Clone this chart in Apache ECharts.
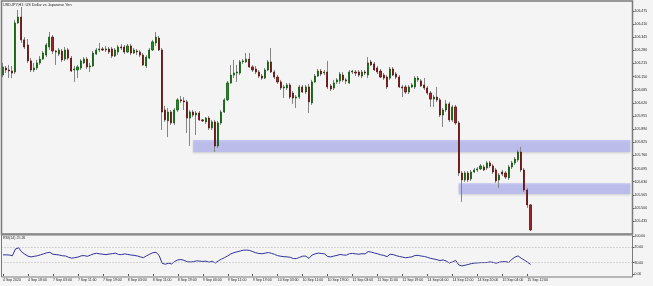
<!DOCTYPE html>
<html><head><meta charset="utf-8">
<script src="https://cdn.jsdelivr.net/npm/echarts@6/dist/echarts.min.js"></script>
<style>html,body{margin:0;padding:0;background:#f4f4f4;}#c{width:653px;height:286px;}</style>
</head><body><div id="c"></div>
<script>
const chartTitle = 'USDJPY,H1: US Dollar vs Japanese Yen';
const rsiTitle = 'RSI(14) 25.26';
const xTickLabels = ['4 Sep 2020','4 Sep 18:00','7 Sep 03:00','7 Sep 11:00','7 Sep 19:00','8 Sep 03:00','8 Sep 11:00','8 Sep 19:00','9 Sep 03:00','9 Sep 11:00','9 Sep 19:00','10 Sep 03:00','10 Sep 11:00','10 Sep 19:00','11 Sep 03:00','11 Sep 11:00','11 Sep 19:00','14 Sep 04:00','14 Sep 12:00','14 Sep 20:00','15 Sep 04:00','15 Sep 12:00'];
const priceTicks = [106.475,106.410,106.345,106.280,106.215,106.150,106.085,106.020,105.955,105.890,105.825,105.760,105.695,105.630,105.565,105.500,105.435];
const rsiTicks = [0, 30, 70, 100];
const rsiLevels = [70, 30];
// [open, close, low, high]
const candles = [
[106.158,106.198,106.148,106.218],[106.193,106.183,106.168,106.203],[106.183,106.178,106.143,106.208],[106.178,106.168,106.143,106.203],
[106.173,106.416,106.163,106.431],[106.416,106.445,106.411,106.480],[106.445,106.332,106.317,106.495],[106.332,106.297,106.287,106.346],
[106.307,106.228,106.218,106.336],[106.228,106.183,106.173,106.242],[106.183,106.193,106.173,106.218],[106.193,106.218,106.183,106.233],
[106.218,106.237,106.208,106.252],[106.237,106.267,106.233,106.277],[106.257,106.307,106.247,106.317],[106.297,106.346,106.282,106.371],
[106.346,106.277,106.262,106.356],[106.277,106.272,106.208,106.282],[106.262,106.282,106.252,106.292],[106.277,106.233,106.223,106.287],
[106.237,106.282,106.228,106.297],[106.282,106.242,106.233,106.292],[106.242,106.178,106.173,106.252],[106.183,106.188,106.124,106.203],
[106.183,106.198,106.143,106.208],[106.193,106.228,106.183,106.237],[106.218,106.237,106.213,106.247],[106.237,106.198,106.188,106.247],
[106.198,106.203,106.173,106.218],[106.203,106.267,106.198,106.277],[106.262,106.282,106.257,106.292],[106.282,106.287,106.272,106.317],
[106.287,106.282,106.277,106.297],[106.282,106.287,106.272,106.302],[106.287,106.272,106.262,106.297],[106.287,106.252,106.242,106.297],
[106.252,106.282,106.247,106.292],[106.272,106.297,106.257,106.307],[106.297,106.292,106.282,106.312],[106.297,106.272,106.262,106.307],
[106.272,106.302,106.267,106.312],[106.302,106.267,106.257,106.312],[106.267,106.282,106.262,106.292],[106.277,106.272,106.257,106.287],
[106.272,106.257,106.247,106.282],[106.257,106.208,106.203,106.267],[106.203,106.247,106.193,106.257],[106.242,106.282,106.237,106.292],
[106.282,106.322,106.277,106.332],[106.317,106.346,106.302,106.371],[106.341,106.282,106.277,106.351],[106.282,105.975,105.886,106.292],
[105.985,105.936,105.926,106.005],[105.931,105.975,105.851,105.995],[105.975,105.921,105.911,105.985],[105.921,105.985,105.911,105.995],
[105.985,106.035,105.975,106.044],[106.035,106.030,106.020,106.054],[106.030,106.025,105.985,106.049],[106.025,105.945,105.871,106.035],
[105.945,105.975,105.807,105.985],[105.975,105.960,105.950,105.985],[105.960,105.970,105.861,105.980],[105.970,105.936,105.931,105.980],
[105.936,105.931,105.926,105.940],[105.926,105.945,105.916,105.950],[105.945,105.896,105.886,105.955],[105.896,105.926,105.886,105.936],
[105.926,105.807,105.777,105.936],[105.807,105.921,105.797,105.931],[105.921,105.975,105.911,105.985],[105.975,106.035,105.970,106.044],
[106.035,106.119,106.030,106.129],[106.119,106.158,106.114,106.208],[106.158,106.168,106.143,106.233],[106.168,106.173,106.124,106.208],
[106.168,106.223,106.158,106.233],[106.223,106.228,106.213,106.237],[106.223,106.237,106.218,106.267],[106.237,106.198,106.193,106.267],
[106.198,106.183,106.173,106.208],[106.188,106.173,106.163,106.203],[106.173,106.153,106.143,106.183],[106.153,106.143,106.134,106.163],
[106.143,106.183,106.138,106.193],[106.183,106.223,106.178,106.233],[106.223,106.173,106.168,106.292],[106.173,106.148,106.138,106.183],
[106.148,106.124,106.114,106.158],[106.124,106.094,106.084,106.134],[106.094,106.099,106.044,106.109],[106.094,106.109,106.084,106.119],
[106.109,106.049,106.039,106.119],[106.069,106.044,106.015,106.079],[106.044,106.049,105.995,106.059],[106.049,106.099,106.039,106.109],
[106.099,106.074,106.069,106.109],[106.074,106.099,106.064,106.109],[106.099,106.025,105.970,106.114],[106.020,106.124,106.010,106.134],
[106.124,106.153,106.119,106.163],[106.153,106.178,106.148,106.188],[106.178,106.163,106.153,106.188],[106.168,106.173,106.158,106.183],
[106.173,106.099,106.089,106.228],[106.104,106.089,106.079,106.114],[106.094,106.119,106.084,106.134],[106.124,106.134,106.114,106.143],
[106.129,106.163,106.114,106.173],[106.158,106.134,106.124,106.173],[106.134,106.129,106.114,106.143],[106.119,106.173,106.114,106.183],
[106.173,106.178,106.163,106.183],[106.173,106.168,106.153,106.183],[106.173,106.158,106.148,106.183],[106.153,106.173,106.143,106.183],
[106.173,106.168,106.158,106.183],[106.158,106.218,106.143,106.247],[106.223,106.208,106.203,106.233],[106.213,106.183,106.178,106.223],
[106.193,106.173,106.163,106.203],[106.178,106.148,106.143,106.188],[106.158,106.143,106.134,106.168],[106.148,106.099,106.089,106.158],
[106.143,106.188,106.134,106.198],[106.188,106.158,106.153,106.198],[106.163,106.148,106.138,106.173],[106.148,106.099,106.094,106.158],
[106.099,106.094,106.049,106.109],[106.099,106.074,106.064,106.109],[106.074,106.099,106.064,106.109],[106.099,106.109,106.094,106.119],
[106.099,106.143,106.089,106.153],[106.134,106.143,106.124,106.153],[106.129,106.104,106.099,106.138],[106.109,106.094,106.084,106.143],
[106.094,106.069,106.059,106.104],[106.069,106.039,106.000,106.079],[106.039,106.049,106.000,106.059],[106.049,106.035,106.025,106.099],
[106.035,105.960,105.950,106.044],[105.960,105.985,105.901,105.995],[105.985,106.015,105.975,106.035],[106.015,105.936,105.926,106.025],
[105.936,106.000,105.926,106.010],[106.000,105.921,105.911,106.010],[105.921,105.673,105.658,105.931],[105.673,105.639,105.530,105.683],
[105.639,105.673,105.629,105.683],[105.673,105.639,105.629,105.683],[105.644,105.678,105.634,105.688],[105.678,105.688,105.673,105.698],
[105.688,105.693,105.678,105.703],[105.693,105.708,105.688,105.718],[105.703,105.688,105.683,105.713],[105.698,105.723,105.688,105.733],
[105.723,105.708,105.698,105.733],[105.708,105.678,105.668,105.718],[105.688,105.634,105.624,105.698],[105.639,105.663,105.599,105.673],
[105.678,105.668,105.658,105.688],[105.673,105.653,105.644,105.683],[105.649,105.703,105.639,105.713],[105.703,105.723,105.693,105.733],
[105.723,105.742,105.713,105.752],[105.738,105.777,105.728,105.787],[105.777,105.688,105.678,105.802],[105.688,105.589,105.579,105.698],
[105.589,105.515,105.500,105.599],[105.515,105.391,105.386,105.520]
];
const rsi = [
50.4,50.4,50,48,66,69,58,52,47,45,
46.5,48,50.4,53,55.7,57,52,51,50,48,
47.5,44,41.6,43,44.5,47.7,48.5,46.5,49.6,53,
54.5,53,52,51,52.5,53.5,55,51.5,51,53,
51.5,50,49,47.5,45,43,48,52,56,57,
49,28,25.7,28.4,26.5,33,37,38,36,32.3,
31.5,32.6,34.5,34,33,34,31,33.7,29,34.5,
39.3,43.2,47.7,53,56.2,58.4,60.5,62.6,63.1,62,
58.9,55.7,54.1,53.3,54.9,56.5,54.4,51.7,48.3,46.7,
45.6,45,44,40.6,40.6,43.8,47,47,41,50,
53,55,54,53,46,45,47.2,49,51.5,50,
49.6,53.5,54.1,53,52,53.4,53,59,57.5,55.2,
53.3,50.5,49,45.6,52,51,48.3,46,44.5,42.7,
44,45,48.8,49,47.2,46.1,43.8,41.1,39.5,37.7,
35.3,37.1,34,29,31.8,35.8,24,21.2,23,25,
27.3,28.6,29.2,30,30,30.2,31.8,30.5,28.4,31,
32.6,32.6,30.5,38.5,44.5,47.7,41.6,36.6,31,25.26
];
// support/resistance zones: bar index span and price band
const zoneFrom = [60.6, 146.4];
const zoneTo = [200.5, 201.5];
const zoneTop = [105.836, 105.622];
const zoneBottom = [105.777, 105.569];

const SLOTS = 202;
const cats = Array.from({length: SLOTS}, (_, i) => i);
const bodies = candles.map(d => [d[0], d[1], Math.min(d[0], d[1]), Math.max(d[0], d[1])]);
const FONT = 'Liberation Sans';
const GL = 1, GW = 631;

const chart = echarts.init(document.getElementById('c'), null, {renderer: 'canvas', devicePixelRatio: 1});
const tickShow = (idx) => idx % 8 === 0 && idx / 8 < xTickLabels.length;
chart.setOption({
  animation: false,
  backgroundColor: '#f4f4f4',
  grid: [
    {left: GL, width: GW, top: 2, height: 231},
    {left: GL, width: GW, top: 236, height: 38}
  ],
  xAxis: [
    {type: 'category', gridIndex: 0, data: cats, boundaryGap: true,
     axisLine: {show: false}, axisTick: {show: false}, axisLabel: {show: false}, splitLine: {show: false}},
    {type: 'category', gridIndex: 1, data: cats, boundaryGap: true, offset: 3,
     axisLine: {show: false},
     axisTick: {show: true, alignWithLabel: true, interval: tickShow, length: 2, lineStyle: {color: '#555', width: 1}},
     axisLabel: {show: true, interval: tickShow, align: 'left', margin: 1.5, fontSize: 3.5, fontFamily: FONT, color: '#222',
       formatter: (v, idx) => xTickLabels[idx / 8] || ''},
     splitLine: {show: false}}
  ],
  yAxis: [
    {type: 'value', gridIndex: 0, position: 'right', min: 105.376, max: 106.5196, scale: true,
     axisLine: {show: false}, splitLine: {show: false},
     axisTick: {show: true, length: 2.5, customValues: priceTicks, lineStyle: {color: '#555'}},
     axisLabel: {show: true, customValues: priceTicks, margin: 2.5, fontSize: 3.5, fontFamily: FONT, color: '#222',
       formatter: v => v.toFixed(3)}},
    {type: 'value', gridIndex: 1, position: 'right', min: 0, max: 100,
     axisLine: {show: false}, splitLine: {show: false},
     axisTick: {show: true, length: 2.5, customValues: rsiTicks, lineStyle: {color: '#555'}},
     axisLabel: {show: true, customValues: rsiTicks, margin: 2.5, fontSize: 3.5, fontFamily: FONT, color: '#222',
       formatter: v => v.toFixed(2)}}
  ],
  series: [
    {type: 'candlestick', name: 'wicks', xAxisIndex: 0, yAxisIndex: 0, data: candles, barWidth: 1, silent: true, z: 2,
     itemStyle: {color: '#858585', color0: '#858585', borderColor: '#858585', borderColor0: '#858585', borderWidth: 1}},
    {type: 'candlestick', name: 'bodies', xAxisIndex: 0, yAxisIndex: 0, data: bodies, barWidth: 1.6, silent: true, z: 3,
     itemStyle: {color: '#1f8f1f', color0: '#a02424', borderColor: '#0c5a0c', borderColor0: '#5e0e0e', borderWidth: 0.8}},
    {type: 'line', name: 'zones', xAxisIndex: 0, yAxisIndex: 0, data: [], z: 10, silent: true,
     markArea: {silent: true,
       itemStyle: {color: 'rgba(182,182,250,0.7)', shadowBlur: 2, shadowColor: 'rgba(0,0,0,0.25)', shadowOffsetY: 1},
       data: zoneFrom.map((f, k) => [{xAxis: f, yAxis: zoneTop[k]}, {xAxis: zoneTo[k], yAxis: zoneBottom[k]}])}},
    {type: 'line', name: 'RSI', xAxisIndex: 1, yAxisIndex: 1, data: rsi, showSymbol: false, silent: true,
     lineStyle: {color: '#33339a', width: 1},
     markLine: {silent: true, symbol: ['none', 'none'], label: {show: false},
       lineStyle: {type: [1, 2], color: '#b4b4b4', width: 1},
       data: rsiLevels.map(v => ({yAxis: v}))}}
  ],
  graphic: [
    {type: 'rect', silent: true, z: 100, shape: {x: 1.5, y: 1, width: 631, height: 233},
     style: {fill: null, stroke: '#7a7a7a', lineWidth: 1.5}},
    {type: 'rect', silent: true, z: 100, shape: {x: 1.5, y: 235, width: 631, height: 42},
     style: {fill: null, stroke: '#7a7a7a', lineWidth: 1}},
    {type: 'text', silent: true, z: 101, x: 3, y: 2.8,
     style: {text: chartTitle, fontSize: 3.8, fontFamily: FONT, fill: '#222', verticalAlign: 'top'}},
    {type: 'text', silent: true, z: 101, x: 3, y: 236.2,
     style: {text: rsiTitle, fontSize: 3.6, fontFamily: FONT, fill: '#222', verticalAlign: 'top'}}
  ]
});
</script></body></html>
